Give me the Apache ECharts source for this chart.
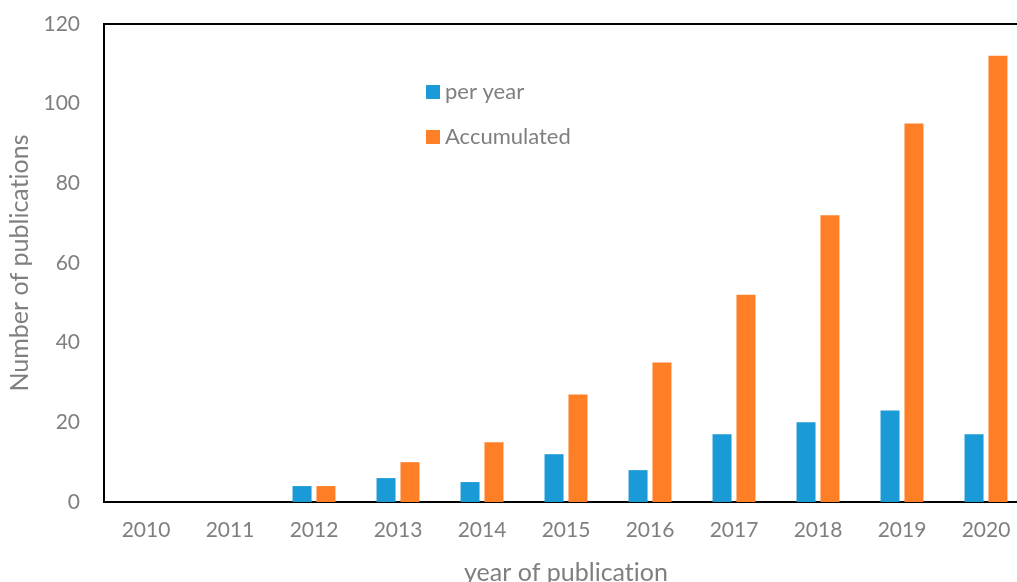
<!DOCTYPE html>
<html>
<head>
<meta charset="utf-8">
<script src="https://cdn.jsdelivr.net/npm/echarts@6/dist/echarts.min.js"></script>
<style>
  html, body { margin: 0; padding: 0; background: #fff; }
  #chart { width: 1017px; height: 582px; }
</style>
</head>
<body>
<div id="chart"></div>
<script>
const years = ['2010', '2011', '2012', '2013', '2014', '2015', '2016', '2017', '2018', '2019', '2020'];
const perYear = [0, 0, 4, 6, 5, 12, 8, 17, 20, 23, 17];
const accumulated = [0, 0, 4, 10, 15, 27, 35, 52, 72, 95, 112];

const font = 'Lato, "Open Sans", sans-serif';
const grey = '#7f7f7f';
// zero-width non-joiner keeps Lato from drawing its "ti" ligature
const noLig = s => s.replace(/ti/g, 't\u200Ci');

const chart = echarts.init(document.getElementById('chart'));
chart.setOption({
  animation: false,
  textStyle: { fontFamily: font },
  grid: {
    left: 104, top: 24, width: 924, height: 478,
    outerBoundsMode: 'none',
    containLabel: false,
    show: true, borderColor: '#000', borderWidth: 2, backgroundColor: 'transparent'
  },
  legend: {
    orient: 'vertical',
    left: 426, top: 81, padding: 0,
    itemWidth: 14, itemHeight: 14, itemGap: 23,
    icon: 'rect',
    textStyle: { color: grey, fontSize: 22, fontFamily: font },
    data: ['per year', 'Accumulated']
  },
  xAxis: {
    type: 'category',
    data: years,
    name: noLig('year of publication'),
    nameLocation: 'middle',
    nameGap: 58,
    nameTextStyle: { color: grey, fontSize: 25, fontFamily: font },
    axisLine: { lineStyle: { color: '#000', width: 2 } },
    axisTick: { show: false },
    axisLabel: { color: grey, fontSize: 21, margin: 18, fontFamily: font }
  },
  yAxis: {
    type: 'value',
    min: 0, max: 120, interval: 20,
    name: noLig('Number of publications'),
    nameLocation: 'middle',
    nameGap: 71,
    nameTextStyle: { color: grey, fontSize: 25, fontFamily: font },
    axisLine: { show: true, lineStyle: { color: '#000', width: 2 } },
    axisTick: { show: false },
    splitLine: { show: false },
    axisLabel: { color: grey, fontSize: 21, margin: 24, fontFamily: font }
  },
  series: [
    {
      name: 'per year', type: 'bar', data: perYear,
      barWidth: 19, barGap: '26%',
      itemStyle: { color: '#1a9ad6' }
    },
    {
      name: 'Accumulated', type: 'bar', data: accumulated,
      barWidth: 19,
      itemStyle: { color: '#ff7f27' }
    }
  ]
});
</script>
</body>
</html>
